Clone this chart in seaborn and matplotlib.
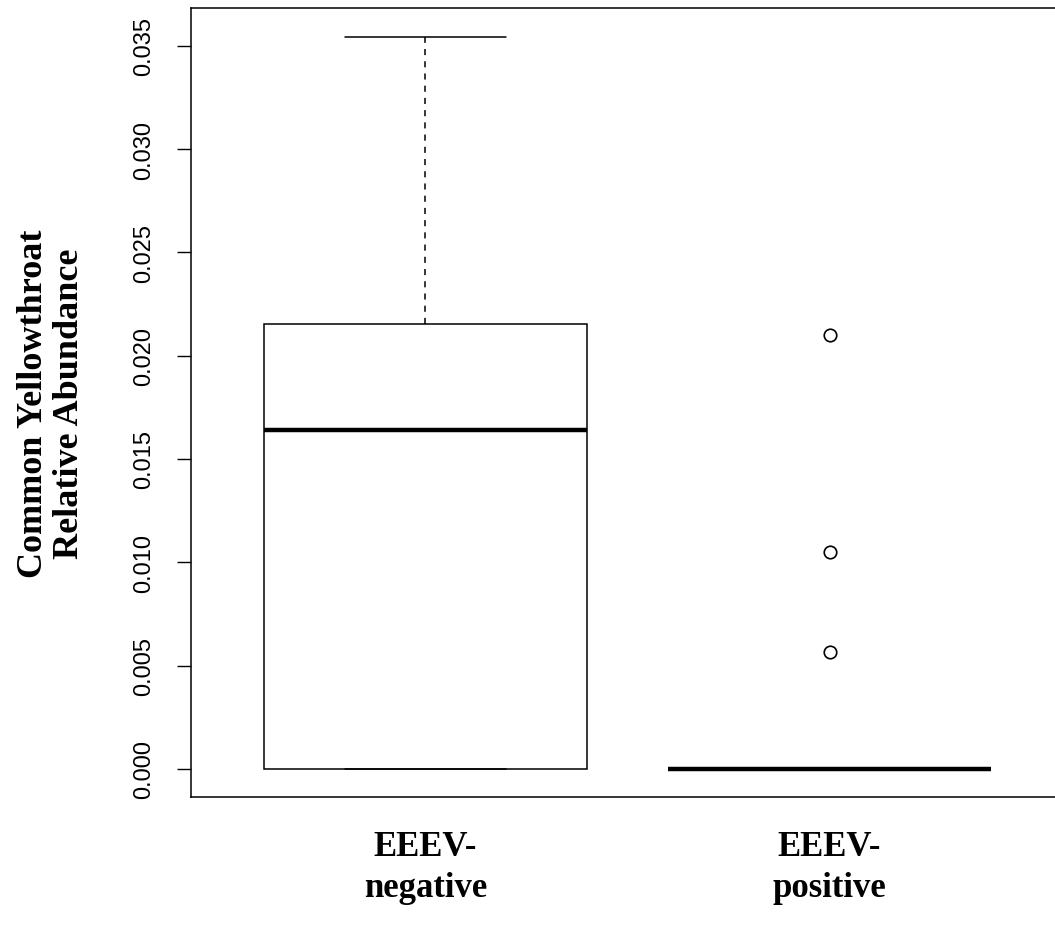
import matplotlib
matplotlib.use("Agg")
import matplotlib.pyplot as plt
from matplotlib.ticker import FormatStrFormatter
import seaborn as sb
import numpy as np
import pandas as pd

# values (relative abundance per site)
negative = [0.0, 0.0, 0.0, 0.0125, 0.01641, 0.0195, 0.02154, 0.028, 0.03541]
positive = [0.0] * 12 + [0.00566, 0.01050, 0.02101]
groups = ["EEEV-\nnegative", "EEEV-\npositive"]
yticks = [0.000, 0.005, 0.010, 0.015, 0.020, 0.025, 0.030, 0.035]

df = pd.DataFrame({
    "group": [groups[0]] * len(negative) + [groups[1]] * len(positive),
    "abundance": negative + positive,
})

sb.set_theme(style="white")
plt.rcParams["font.family"] = ["Liberation Sans", "DejaVu Sans"]
plt.rcParams["text.color"] = "black"
plt.rcParams["axes.labelcolor"] = "black"
plt.rcParams["xtick.color"] = "black"
plt.rcParams["ytick.color"] = "black"

fig = plt.figure(figsize=(10.55, 9.28), dpi=100)
ax = fig.add_axes([0.181, 0.1401, 0.8275, 0.8499])

sb.boxplot(data=df, x="group", y="abundance", order=groups, ax=ax,
           color="white", linecolor="black", linewidth=1.1, width=0.8,
           whis=1.5,
           medianprops={"linewidth": 3.2, "color": "black"},
           whiskerprops={"linestyle": (0, (4, 4)), "linewidth": 1.1},
           capprops={"linewidth": 1.1},
           flierprops={"marker": "o", "markersize": 9,
                       "markerfacecolor": "none", "markeredgecolor": "black",
                       "markeredgewidth": 1.2})

ax.set_xlim(-0.58, 1.58)
ax.set_ylim(-0.001355, 0.03681)
ax.set_yticks(yticks)
ax.yaxis.set_major_formatter(FormatStrFormatter("%.3f"))

for sp in ax.spines.values():
    sp.set_visible(True)
    sp.set_color("black")
    sp.set_linewidth(1.1)

ax.tick_params(axis="y", left=True, length=10, width=1.0, color="black",
               pad=16, labelsize=17, labelrotation=90, labelcolor="black")
for lab in ax.get_yticklabels():
    lab.set_va("center")
ax.tick_params(axis="x", bottom=False, length=0, pad=24, labelcolor="black")
for lab in ax.get_xticklabels():
    lab.set_fontfamily("Liberation Serif")
    lab.set_fontweight("bold")
    lab.set_fontsize(25)
    lab.set_linespacing(1.3)

ax.set_xlabel("")
ax.set_ylabel("Common Yellowthroat\nRelative Abundance",
              fontfamily="Liberation Serif", fontweight="bold",
              fontsize=26, linespacing=1.1, labelpad=34, color="black")

plt.savefig("out.png", dpi=100)
plt.close()
